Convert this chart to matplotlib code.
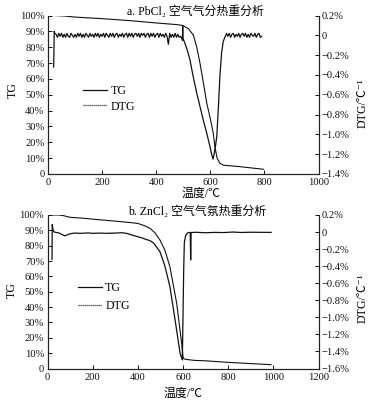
import matplotlib
matplotlib.use("Agg")
import matplotlib.pyplot as plt
from matplotlib.lines import Line2D
from matplotlib.ticker import FixedLocator, FuncFormatter

FAMS = ['Liberation Serif', 'Noto Sans CJK SC', 'DejaVu Sans']
plt.rcParams['font.family'] = FAMS

# ---------------- Data: PbCl2 (panel a) ----------------
pb_tg_T = [20, 60, 100, 200, 300, 400, 480, 500, 520, 537, 550, 562, 575, 587, 600,
           611, 617, 625, 636, 650, 700, 796]
pb_tg = [100, 99.7, 99.0, 98.0, 96.8, 95.3, 94.2, 93.6, 91.5, 87.7, 80.0, 69.8, 57.0,
         44.6, 35.0, 25.7, 17.2, 10.0, 6.7, 5.5, 4.8, 3.0]

# DTG baseline readings (every 5 degC) before the main peak, 25..495
pb_dtg_pre_T = list(range(25, 500, 5))
pb_dtg_pre = [0.02, 0.01, -0.02, 0.02, -0.01, 0.02, -0.02, 0.01, -0.02, 0.02,
              -0.01, -0.02, 0.02, 0.00, -0.02, 0.01, -0.02, 0.02, -0.01, 0.02,
              -0.02, 0.01, -0.02, 0.02, 0.00, -0.02, 0.02, -0.01, 0.01, -0.02,
              0.02, -0.01, 0.02, -0.02, 0.01, -0.01, 0.02, -0.02, 0.02, 0.00,
              -0.02, 0.02, -0.01, 0.02, -0.02, 0.01, 0.02, -0.02, 0.01, -0.01,
              0.02, -0.02, 0.01, 0.02, -0.02, 0.02, -0.01, 0.02, -0.02, 0.01,
              0.02, -0.01, 0.02, -0.02, 0.02, 0.00, 0.02, -0.02, 0.01, 0.02,
              -0.02, 0.02, -0.01, 0.02, -0.02, 0.01, 0.02, -0.02, 0.02, -0.01,
              0.01, -0.02, 0.02, -0.01, -0.09, 0.02, -0.02, 0.01, -0.02, 0.02,
              -0.02, 0.01, -0.02, -0.01, -0.03]
# main peak
pb_dtg_peak_T = [497, 498, 499, 506, 515, 525, 537, 550, 562, 574, 587, 599, 605, 610,
                 614, 619, 624, 630, 636, 642, 648, 654]
pb_dtg_peak = [-0.05, 0.094, -0.03, -0.08, -0.15, -0.25, -0.42, -0.585, -0.72, -0.855,
               -0.99, -1.125, -1.20, -1.25, -1.20, -1.12, -1.02, -0.72, -0.39, -0.17,
               -0.06, -0.02]
pb_dtg_post_T = list(range(660, 795, 5))
pb_dtg_post = [0.02, -0.01, 0.02, -0.02, 0.01, 0.02, -0.02, 0.01, -0.01, 0.02,
               -0.02, 0.01, 0.02, -0.01, 0.02, -0.02, 0.01, -0.02, 0.02, 0.00,
               -0.01, 0.02, -0.02, 0.01, 0.02, -0.02, -0.01]
pb_dtg_start_T = [21, 23]
pb_dtg_start = [-0.32, 0.04]

# ---------------- Data: ZnCl2 (panel b) ----------------
zn_tg_T = [20, 50, 70, 100, 150, 200, 300, 372, 400, 430, 454, 475, 498, 520, 542, 572,
           594, 601, 610, 650, 700, 800, 900, 990]
zn_tg = [100, 100, 99.6, 98.5, 98.0, 97.3, 96.0, 95.0, 94.5, 93.0, 91.3, 88.5, 83.7,
         77.0, 66.3, 42.5, 16.4, 6.6, 6.0, 5.3, 5.0, 4.0, 3.2, 2.5]

zn_dtg_T = [20, 21, 25, 30, 40, 50, 65, 77, 90, 100, 120, 150, 180, 200, 230, 260, 300,
            330, 350, 380, 420, 440, 454, 470, 498, 520, 542, 565, 587, 597, 600, 603,
            606, 612, 620, 628, 632, 634, 636, 660, 700, 740, 780, 820, 860, 900, 940,
            990]
zn_dtg = [-0.32, 0.09, 0.02, 0.0, -0.005, -0.01, -0.03, -0.045, -0.03, -0.02, -0.012,
          -0.015, -0.01, -0.015, -0.012, -0.015, -0.012, -0.008, -0.015, -0.04, -0.07,
          -0.09, -0.10, -0.13, -0.23, -0.40, -0.64, -1.03, -1.42, -1.50, -1.00, -0.45,
          -0.12, -0.04, -0.01, -0.005, -0.005, -0.327, -0.005, -0.003, -0.008, -0.004,
          -0.006, 0.0, -0.005, -0.002, -0.003, -0.004]

tg_ticks = [0, 10, 20, 30, 40, 50, 60, 70, 80, 90, 100]


def pct_fmt(v, pos):
    if abs(v) < 1e-9:
        return "0"
    return f"{v:.0f}%"


def dtg_fmt(v, pos):
    if abs(v) < 1e-9:
        return "0"
    s = f"{abs(v):.1f}%"
    return ("\u2212" + s) if v < 0 else s


fig = plt.figure(figsize=(3.76, 4.05), dpi=100)
W, H = 376.0, 405.0

TICK_FS = 7.6
LAB_FS = 8.6


def setup(ax, axr, xmax, xticks, dmin, dticks):
    ax.set_xlim(0, xmax)
    ax.set_ylim(0, 100)
    ax.xaxis.set_major_locator(FixedLocator(xticks))
    ax.yaxis.set_major_locator(FixedLocator(tg_ticks))
    ax.yaxis.set_major_formatter(FuncFormatter(pct_fmt))
    ax.spines['top'].set_visible(False)
    axr.spines['top'].set_visible(False)
    for a in (ax, axr):
        for s in a.spines.values():
            s.set_linewidth(0.8)
            s.set_color('#222222')
    ax.tick_params(axis='both', direction='in', length=3, width=0.7,
                   labelsize=TICK_FS, pad=2.5, colors='#111111')
    ax.tick_params(axis='x', pad=3)
    axr.set_ylim(dmin, 0.2)
    axr.yaxis.set_major_locator(FixedLocator(dticks))
    axr.yaxis.set_major_formatter(FuncFormatter(dtg_fmt))
    axr.tick_params(axis='y', direction='in', length=3, width=0.7,
                    labelsize=TICK_FS, pad=2, colors='#111111')


DTG_LABEL = 'DTG/\u2103\u207b\u00b9'
XLABEL = '温度/\u2103'

# ---------- Panel a ----------
ax1 = fig.add_axes([48 / W, (H - 174) / H, 270.5 / W, 158.5 / H])
ax1r = ax1.twinx()
setup(ax1, ax1r, 1000, [0, 200, 400, 600, 800, 1000], -1.4,
      [0.2, 0.0, -0.2, -0.4, -0.6, -0.8, -1.0, -1.2, -1.4])
ax1.plot(pb_tg_T, pb_tg, color='#111111', lw=0.8)
dT = pb_dtg_start_T + pb_dtg_pre_T + pb_dtg_peak_T + pb_dtg_post_T
dV = pb_dtg_start + pb_dtg_pre + pb_dtg_peak + pb_dtg_post
ax1r.plot(dT, dV, color='#111111', lw=0.9)

ax1.set_ylabel('TG', fontsize=LAB_FS)
ax1.yaxis.set_label_coords((19 - 48) / 270.5, (174 - 90) / 158.5)
ax1r.set_ylabel(DTG_LABEL, fontsize=LAB_FS, rotation=90)
ax1r.yaxis.set_label_coords((357 - 48) / 270.5, (174 - 103) / 158.5)
ax1.set_xlabel(XLABEL, fontsize=LAB_FS)
ax1.xaxis.set_label_coords((201 - 48) / 270.5, (174 - 187.5) / 158.5)
fig.text(195 / W, 1 - 11.7 / H, 'a. PbCl\u2082 空气气分热重分析', fontsize=LAB_FS,
         ha='center', va='center')

h = [Line2D([], [], color='#111111', lw=0.9),
     Line2D([], [], color='#333333', lw=0.9, linestyle=(0, (1, 0.6)))]
ax1.legend(h, ['TG', 'DTG'], frameon=False, fontsize=LAB_FS, loc='upper left',
           bbox_to_anchor=((83 - 48) / 270.5, (174 - 85) / 158.5), borderaxespad=0,
           borderpad=0, handlelength=2.0, handletextpad=0.3, labelspacing=0.3)

# ---------- Panel b ----------
ax2 = fig.add_axes([47.5 / W, (H - 368.5) / H, 271 / W, 153.5 / H])
ax2r = ax2.twinx()
setup(ax2, ax2r, 1200, [0, 200, 400, 600, 800, 1000, 1200], -1.6,
      [0.2, 0.0, -0.2, -0.4, -0.6, -0.8, -1.0, -1.2, -1.4, -1.6])
ax2.plot(zn_tg_T, zn_tg, color='#111111', lw=0.8)
ax2r.plot(zn_dtg_T, zn_dtg, color='#111111', lw=0.9)

ax2.set_ylabel('TG', fontsize=LAB_FS)
ax2.yaxis.set_label_coords((18 - 47.5) / 271, (368.5 - 290) / 153.5)
ax2r.set_ylabel(DTG_LABEL, fontsize=LAB_FS, rotation=90)
ax2r.yaxis.set_label_coords((357 - 47.5) / 271, (368.5 - 298) / 153.5)
ax2.set_xlabel(XLABEL, fontsize=LAB_FS)
ax2.xaxis.set_label_coords((183 - 47.5) / 271, (368.5 - 388) / 153.5)
fig.text(197.5 / W, 1 - 211.7 / H, 'b. ZnCl\u2082 空气气氛热重分析', fontsize=LAB_FS,
         ha='center', va='center')

ax2.legend(h, ['TG', 'DTG'], frameon=False, fontsize=LAB_FS, loc='upper left',
           bbox_to_anchor=((77.7 - 47.5) / 271, (368.5 - 282) / 153.5), borderaxespad=0,
           borderpad=0, handlelength=2.0, handletextpad=0.3, labelspacing=0.5)

fig.savefig('out.png', dpi=100)
